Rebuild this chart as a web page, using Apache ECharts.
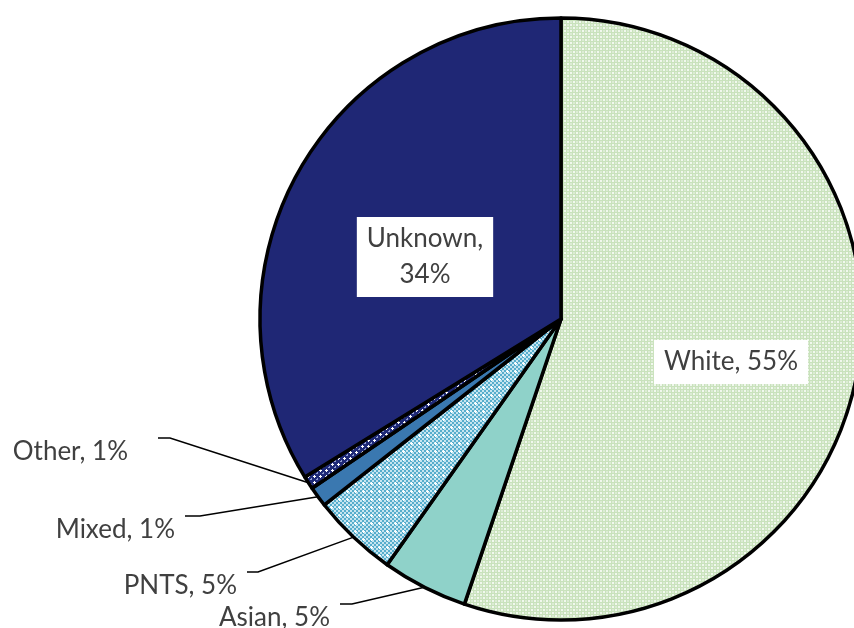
<!DOCTYPE html>
<html><head><meta charset="utf-8">
<script src="https://cdn.jsdelivr.net/npm/echarts@6/dist/echarts.min.js"></script>
<style>html,body{margin:0;padding:0;background:#fff}#c{width:854px;height:628px}</style>
</head><body><div id="c"></div>
<script>
// ---- data ----
const categories = ['White', 'Asian', 'PNTS', 'Mixed', 'Other', 'Unknown'];
const values = [55.2, 4.6, 4.6, 1.1, 0.7, 33.8];

// ---- styles / layout ----
function tile(size, base, draw) {
  const c = document.createElement('canvas');
  c.width = c.height = size;
  const g = c.getContext('2d');
  g.fillStyle = base; g.fillRect(0, 0, size, size);
  draw(g);
  return c;
}
const whiteTile = tile(6, '#c9e2bc', g => {
  g.fillStyle = '#f1f8ee';
  g.fillRect(0, 0, 2, 2); g.fillRect(3, 3, 2, 2);
  g.fillStyle = '#dcecd4';
  g.fillRect(3, 0, 2, 2); g.fillRect(0, 3, 2, 2);
});
const pntsTile = tile(8, '#56adcc', g => {
  g.fillStyle = '#c6e5f0';
  for (let y = 0; y < 8; y += 2) for (let x = 0; x < 8; x += 2) if (((x + y) / 2) % 2 === 0) g.fillRect(x, y, 2, 2);
  g.fillStyle = '#ffffff';
  g.fillRect(2, 3, 3, 1); g.fillRect(3, 2, 1, 3);
});
const otherTile = tile(6, '#1f2a78', g => {
  g.fillStyle = '#ffffff';
  g.fillRect(1, 2, 3, 1); g.fillRect(2, 1, 1, 3);
  g.fillStyle = '#8f9bd0';
  g.fillRect(4, 5, 2, 1); g.fillRect(5, 4, 1, 2);
});
const colors = {
  White: { image: whiteTile, repeat: 'repeat' },
  Asian: '#8fd2c9',
  PNTS: { image: pntsTile, repeat: 'repeat' },
  Mixed: '#3a78b0',
  Other: { image: otherTile, repeat: 'repeat' },
  Unknown: '#1f2775'
};
const insideLabelPos = { White: [731, 362], Unknown: [425, 257] };
const insidePadding = { White: [7, 10, 6, 10], Unknown: [5, 10, 3, 10] };
const insideLineHeight = { White: 31, Unknown: 36 };
// [text right x, text center y, line end offset, knee offset]
const outsideLabelPos = {
  Other: [128, 452, 30, 42],
  Mixed: [175, 530, 10, 25],
  PNTS: [237, 586, 10, 21],
  Asian: [330, 618, 10, 22]
};
const FONT = 'Lato';

const chart = echarts.init(document.getElementById('c'), null, { renderer: 'canvas' });
const data = categories.map((name, i) => {
  const inside = !!insideLabelPos[name];
  return {
    name: name,
    value: values[i],
    itemStyle: { color: colors[name] },
    label: inside ? {
      position: 'inside',
      backgroundColor: '#ffffff',
      padding: insidePadding[name],
      lineHeight: insideLineHeight[name]
    } : { position: 'outside' },
    labelLine: { show: !inside }
  };
});

chart.setOption({
  backgroundColor: '#ffffff',
  animation: false,
  series: [{
    type: 'pie',
    center: [561, 319],
    radius: [0, 301],
    startAngle: 90,
    clockwise: true,
    avoidLabelOverlap: false,
    emphasis: { disabled: true },
    data: data,
    itemStyle: { borderColor: '#000000', borderWidth: 3.5 },
    label: {
      fontFamily: FONT,
      fontSize: 26,
      color: '#404040',
      formatter: p => p.name === 'Unknown'
        ? p.name + ',\n' + Math.round(p.value) + '%'
        : p.name + ', ' + Math.round(p.value) + '%'
    },
    labelLine: { lineStyle: { color: '#000000', width: 1.5 }, length: 20, length2: 10 },
    labelLayout: function (params) {
      const name = categories[params.dataIndex];
      const ins = insideLabelPos[name];
      if (ins) return { x: ins[0], y: ins[1], align: 'center', verticalAlign: 'middle' };
      const o = outsideLabelPos[name];
      const ly = o[1] - 14;
      const pts = params.labelLinePoints;
      const out = { x: o[0], y: o[1], align: 'right', verticalAlign: 'middle' };
      if (pts) out.labelLinePoints = [pts[0], [o[0] + o[3], ly], [o[0] + o[2], ly]];
      return out;
    }
  }]
});
</script></body></html>
